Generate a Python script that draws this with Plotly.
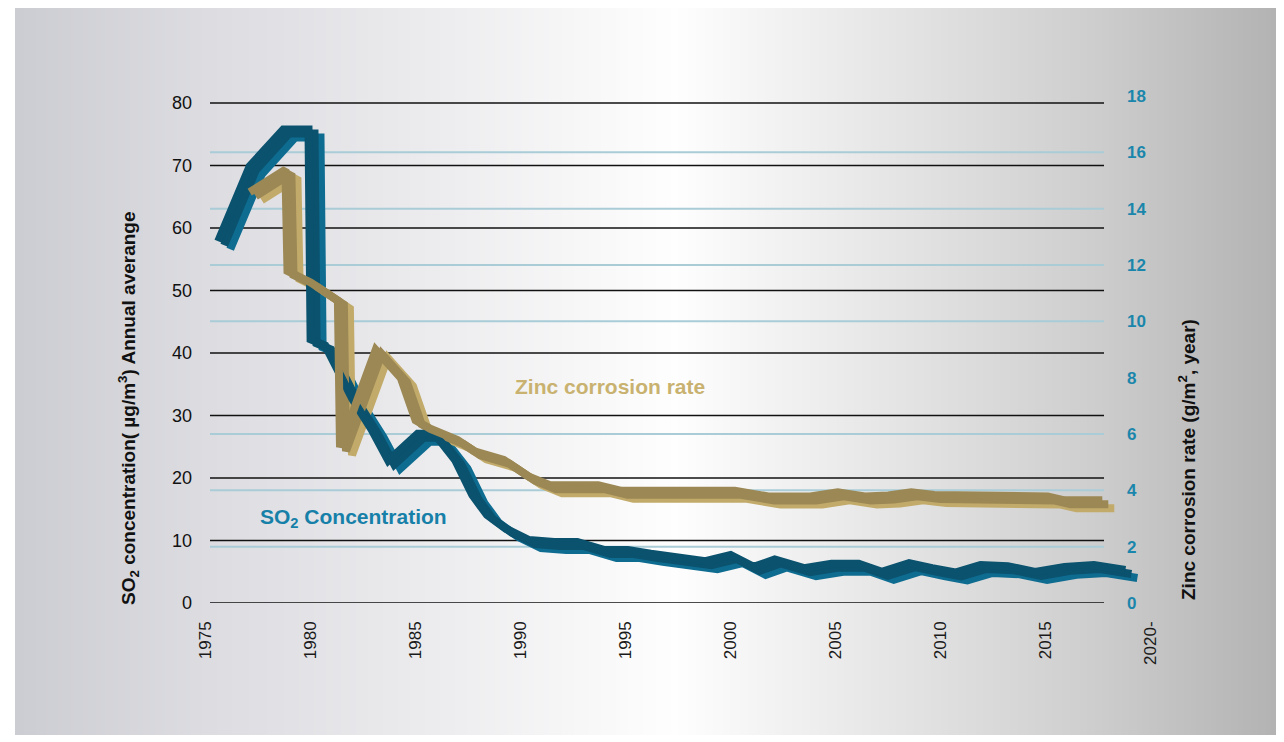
import base64
import struct
import zlib

import plotly.graph_objects as go

# ---------------- data ----------------
SO2_YEARS = [1976.2, 1977.7, 1979.3, 1980.5, 1980.6, 1981.3, 1982.6, 1983.5, 1984.3, 1985.7,
             1986.5, 1987.5, 1988.3, 1989.0, 1989.9, 1991.0, 1992.2, 1993.3, 1994.6, 1995.7,
             1996.8, 1998.2, 1999.4, 2000.6, 2001.7, 2002.7, 2004.1, 2005.4, 2006.7, 2007.8,
             2009.1, 2010.2, 2011.3, 2012.5, 2013.8, 2015.1, 2016.5, 2017.9, 2019.4]
SO2_VALUES = [56.6, 68.6, 74.5, 74.5, 40.9, 39.9, 31.3, 26.5, 21.5, 25.8,
              25.8, 21.5, 16.0, 12.8, 10.6, 8.8, 8.5, 8.5, 7.2, 7.2,
              6.6, 5.8, 5.4, 6.4, 4.5, 5.7, 4.3, 5.0, 5.0, 3.7,
              5.1, 4.3, 3.6, 4.8, 4.6, 3.7, 4.5, 4.8, 4.0]

ZINC_YEARS = [1977.7, 1978.6, 1979.4, 1979.5, 1980.6, 1981.9, 1982.0, 1983.7, 1984.9, 1985.6,
              1986.3, 1987.6, 1988.4, 1989.8, 1991.0, 1992.0, 1993.2, 1994.3, 1995.4, 1996.7,
              1998.1, 1999.7, 2000.8, 2002.4, 2003.3, 2004.4, 2005.7, 2007.0, 2008.1, 2009.2,
              2010.3, 2011.7, 2012.9, 2014.1, 2015.7, 2016.5, 2018.3]
ZINC_VALUES = [14.3, 14.7, 15.1, 11.5, 11.1, 10.45, 5.25, 8.7, 7.7, 6.2,
               5.9, 5.5, 5.1, 4.8, 4.2, 3.9, 3.9, 3.9, 3.7, 3.7,
               3.7, 3.65, 3.7, 3.5, 3.5, 3.5, 3.65, 3.5, 3.53, 3.65,
               3.55, 3.55, 3.55, 3.5, 3.5, 3.36, 3.36]

X_TICKS = [1975, 1980, 1985, 1990, 1995, 2000, 2005, 2010, 2015, 2020]
X_TICK_LABELS = ["1975", "1980", "1985", "1990", "1995", "2000", "2005", "2010", "2015", "2020-"]
LEFT_TICKS = [0, 10, 20, 30, 40, 50, 60, 70, 80]
RIGHT_TICKS = [0, 2, 4, 6, 8, 10, 12, 14, 16, 18]
RIGHT_GRID = [2, 4, 6, 10, 12, 14, 16]

LEFT_TITLE = "SO<sub>2</sub> concentration( µg/m<sup>3</sup>) Annual averange"
RIGHT_TITLE = "Zinc corrosion rate (g/m<sup>2</sup>, year)"
SO2_LABEL = "SO<sub>2</sub> Concentration"
ZINC_LABEL = "Zinc corrosion rate"

# ---------------- layout constants (page pixels; page body has an 8px margin) ----------------
OFF = 8
PAGE_W, PAGE_H = 1284, 742
W, H = PAGE_W - OFF, PAGE_H - OFF
P_LEFT, P_RIGHT, P_TOP, P_BOTTOM = 205, 1160, 96, 603      # plot area in page pixels
ML, MT = P_LEFT - OFF, P_TOP - OFF
MR, MB = W - (P_RIGHT - OFF), H - (P_BOTTOM - OFF)
PW, PH = P_RIGHT - P_LEFT, P_BOTTOM - P_TOP
PX_PER_YEAR = 21.0
X_RANGE = [1975, 1975 + PW / PX_PER_YEAR]
LEFT_RANGE = [0, 81.12]
RIGHT_RANGE = [0, 18.0]
DEPTH_X, DEPTH_Y = 12, 8          # pseudo-3D depth (px), toward upper-left
FONT = "Liberation Sans, Arial, Helvetica, sans-serif"

BLUE_FRONT, BLUE_BACK = "#0e6c91", "#0a526e"
GOLD_FRONT, GOLD_BACK = "#c2ab6a", "#9c8855"


def px(xp):
    return (xp - P_LEFT) / PW


def py(yp):
    return (P_BOTTOM - yp) / PH


def shift_x(rng, s):
    d = s * (rng[1] - rng[0]) / PW
    return [rng[0] + d, rng[1] + d]


def shift_y(rng, s):
    d = s * (rng[1] - rng[0]) / PH
    return [rng[0] - d, rng[1] - d]


def gradient_png():
    stops = [(0.0, (204, 205, 210)), (0.15, (220, 220, 225)), (0.35, (238, 238, 240)),
             (0.52, (254, 254, 254)), (0.7, (228, 228, 228)), (0.85, (206, 206, 206)),
             (1.0, (178, 178, 178))]
    n = 512
    row = bytearray()
    for i in range(n):
        f = i / (n - 1)
        for (f0, c0), (f1, c1) in zip(stops[:-1], stops[1:]):
            if f0 <= f <= f1:
                t = (f - f0) / (f1 - f0)
                row += bytes(int(round(a + (b - a) * t)) for a, b in zip(c0, c1))
                break
    raw = b"".join(b"\x00" + bytes(row) for _ in range(2))

    def chunk(tag, data):
        c = struct.pack(">I", len(data)) + tag + data
        return c + struct.pack(">I", zlib.crc32(tag + data) & 0xFFFFFFFF)

    png = b"\x89PNG\r\n\x1a\n" + chunk(b"IHDR", struct.pack(">IIBBBBB", n, 2, 8, 2, 0, 0, 0)) \
        + chunk(b"IDAT", zlib.compress(raw, 9)) + chunk(b"IEND", b"")
    return "data:image/png;base64," + base64.b64encode(png).decode()


fig = go.Figure()

LW = 8
# zinc ribbon (right axis)
for xa, ya in (("x3", "y6"), ("x2", "y5")):
    fig.add_trace(go.Scatter(x=ZINC_YEARS, y=ZINC_VALUES, xaxis=xa, yaxis=ya, mode="lines",
                             line=dict(color=GOLD_BACK, width=LW), hoverinfo="skip", showlegend=False))
fig.add_trace(go.Scatter(x=ZINC_YEARS, y=ZINC_VALUES, xaxis="x", yaxis="y2", mode="lines",
                         line=dict(color=GOLD_FRONT, width=LW), name="Zinc corrosion rate", showlegend=False))
# SO2 ribbon (left axis)
for xa, ya in (("x3", "y4"), ("x2", "y3")):
    fig.add_trace(go.Scatter(x=SO2_YEARS, y=SO2_VALUES, xaxis=xa, yaxis=ya, mode="lines",
                             line=dict(color=BLUE_BACK, width=LW), hoverinfo="skip", showlegend=False))
fig.add_trace(go.Scatter(x=SO2_YEARS, y=SO2_VALUES, xaxis="x", yaxis="y", mode="lines",
                         line=dict(color=BLUE_FRONT, width=LW), name="SO2 Concentration", showlegend=False))

# gridlines
gx0, gx1 = px(210), px(1104)
shapes = []
for v in LEFT_TICKS:
    shapes.append(dict(type="line", xref="paper", yref="y", x0=gx0, x1=gx1, y0=v, y1=v,
                       line=dict(color="#111111", width=1.3), layer="below"))
for v in RIGHT_GRID:
    shapes.append(dict(type="line", xref="paper", yref="y2", x0=gx0, x1=gx1, y0=v, y1=v,
                       line=dict(color="#a9ccd7", width=2), layer="below"))


def label(text, x, y, size, color, angle=0):
    return dict(text=text, x=px(x), y=py(y), xref="paper", yref="paper", showarrow=False,
                xanchor="center", yanchor="middle", textangle=angle,
                font=dict(family=FONT, size=size, color=color, weight="bold"))


annotations = [
    label(LEFT_TITLE, 128, 408, 19, "#111111", -90),
    label(RIGHT_TITLE, 1187, 460, 19, "#111111", -90),
    label(ZINC_LABEL, 610, 386, 21, "#c9b270"),
    label(SO2_LABEL, 353, 518, 21, "#1680a8"),
]

hidden = dict(visible=False, showgrid=False, zeroline=False, fixedrange=True)

fig.update_layout(
    width=W, height=H,
    margin=dict(l=ML, r=MR, t=MT, b=MB, pad=0),
    paper_bgcolor="white", plot_bgcolor="rgba(0,0,0,0)",
    font=dict(family=FONT, color="#111111"),
    showlegend=False,
    xaxis=dict(range=X_RANGE, tickvals=X_TICKS, ticktext=X_TICK_LABELS, tickangle=-90,
               showgrid=False, zeroline=False, showline=False, ticks="",
               ticklabelstandoff=14, tickfont=dict(family=FONT, size=17, color="#1a1a1a")),
    yaxis=dict(range=LEFT_RANGE, tickvals=LEFT_TICKS, showgrid=False, zeroline=False,
               showline=False, ticks="", ticklabelstandoff=12,
               tickfont=dict(family=FONT, size=18, color="#111111")),
    yaxis2=dict(range=RIGHT_RANGE, tickvals=RIGHT_TICKS, overlaying="y", side="right",
                anchor="free", position=px(1124),
                showgrid=False, zeroline=False, showline=False, ticks="",
                ticklabelstandoff=2,
                tickfont=dict(family=FONT, size=17, color="#1b86ab", weight="bold")),
    xaxis2=dict(overlaying="x", range=shift_x(X_RANGE, DEPTH_X * 0.5), **hidden),
    xaxis3=dict(overlaying="x", range=shift_x(X_RANGE, DEPTH_X * 1.0), **hidden),
    yaxis3=dict(overlaying="y", range=shift_y(LEFT_RANGE, DEPTH_Y * 0.5), **hidden),
    yaxis4=dict(overlaying="y", range=shift_y(LEFT_RANGE, DEPTH_Y * 1.0), **hidden),
    yaxis5=dict(overlaying="y", range=shift_y(RIGHT_RANGE, DEPTH_Y * 0.5), **hidden),
    yaxis6=dict(overlaying="y", range=shift_y(RIGHT_RANGE, DEPTH_Y * 1.0), **hidden),
    shapes=shapes,
    annotations=annotations,
    images=[dict(source=gradient_png(), xref="paper", yref="paper",
                 x=px(15), y=py(8), sizex=(PAGE_W - 15) / PW, sizey=(735 - 8) / PH,
                 xanchor="left", yanchor="top", sizing="stretch", layer="below")],
)

fig.write_html("out.html")
